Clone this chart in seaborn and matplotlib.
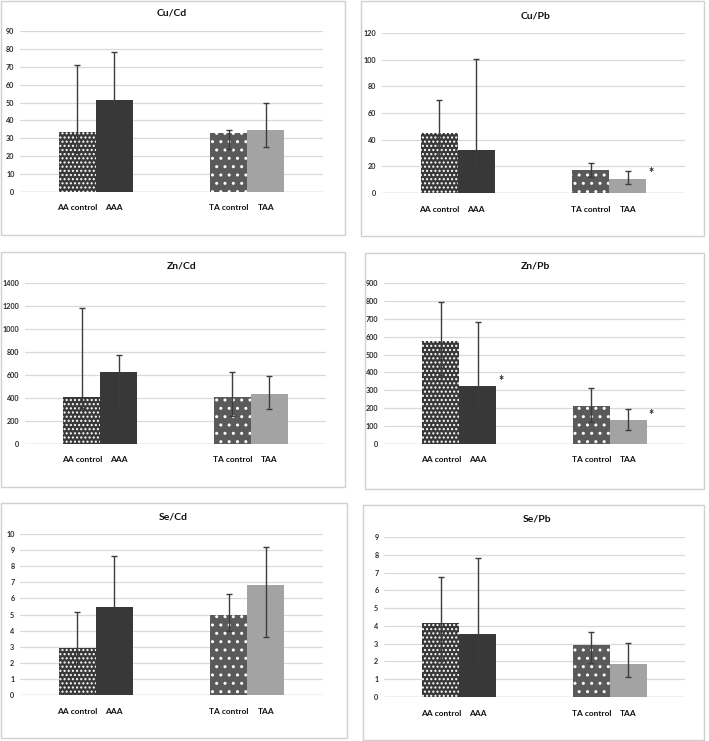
import numpy as np
import pandas as pd
import matplotlib
matplotlib.use("Agg")
import matplotlib.pyplot as plt
from matplotlib.patches import Rectangle
import seaborn as sns

# bar labels, in drawing order
groups = ["AA", "TA"]
conditions = ["control", "case"]
bar_labels = ["AA control", "AAA", "TA control", "TAA"]

titles = ["Cu/Cd", "Cu/Pb", "Zn/Cd", "Zn/Pb", "Se/Cd", "Se/Pb"]

# means and upper / lower ends of the error bars
cu_cd_mean = [33.3, 51.2, 33.0, 34.5]
cu_cd_hi = [70.8, 78.3, 34.8, 49.9]
cu_cd_lo = [22.0, 37.3, 24.2, 25.2]

cu_pb_mean = [45.2, 32.0, 17.5, 10.8]
cu_pb_hi = [70.0, 100.7, 22.8, 16.5]
cu_pb_lo = [25.0, 17.5, 12.0, 6.5]

zn_cd_mean = [406, 623, 406, 435]
zn_cd_hi = [1183, 774, 626, 588]
zn_cd_lo = [316, 330, 240, 304]

zn_pb_mean = [574, 322, 212, 132]
zn_pb_hi = [792, 682, 313, 194]
zn_pb_lo = [388, 196, 123, 78]

se_cd_mean = [2.90, 5.47, 4.99, 6.81]
se_cd_hi = [5.18, 8.63, 6.25, 9.17]
se_cd_lo = [1.90, 3.66, 3.98, 3.62]

se_pb_mean = [4.14, 3.55, 2.93, 1.87]
se_pb_hi = [6.76, 7.84, 3.64, 3.04]
se_pb_lo = [2.00, 1.77, 1.94, 1.10]

y_max = [90, 120, 1400, 900, 10, 9]
y_step = [10, 20, 200, 100, 1, 1]

# significance stars: panel index -> bar indices
stars = {1: [3], 3: [1, 3]}

means = [cu_cd_mean, cu_pb_mean, zn_cd_mean, zn_pb_mean, se_cd_mean, se_pb_mean]
his = [cu_cd_hi, cu_pb_hi, zn_cd_hi, zn_pb_hi, se_cd_hi, se_pb_hi]
los = [cu_cd_lo, cu_pb_lo, zn_cd_lo, zn_pb_lo, se_cd_lo, se_pb_lo]

sns.set_theme(style="white")
plt.rcParams["font.family"] = ["Lato", "DejaVu Sans"]
plt.rcParams["hatch.linewidth"] = 1.0

W, H = 709, 741
fig = plt.figure(figsize=(W / 100, H / 100), dpi=100)

# layout in pixels: panel box (x0, y0, x1, y1), plot area (left, right, top, bottom)
boxes = [(1, 1, 345, 235), (361, 1, 704, 236),
         (1, 252, 345, 487), (365, 253, 704, 489),
         (1, 503, 347, 738), (363, 505, 704, 740)]
areas = [(20, 323, 31, 192), (382, 685, 33, 193),
         (25, 326, 283, 444), (384, 685, 283, 444),
         (20, 323, 534, 695), (384, 685, 537, 697)]
title_pos = [(172, 13), (536, 16), (182, 266), (535, 266), (173, 517), (537, 519)]

fills = ["#383838", "#383838", "#5a5a5a", "#a3a3a3"]
hatches = ["....", None, "..", None]

for i in range(6):
    bx0, by0, bx1, by1 = boxes[i]
    fig.patches.append(Rectangle((bx0 / W, 1 - by1 / H), (bx1 - bx0) / W, (by1 - by0) / H,
                                 transform=fig.transFigure, fill=False,
                                 edgecolor="#d0d0d0", linewidth=1.0))
    l, r, t, b = areas[i]
    ax = fig.add_axes([l / W, 1 - b / H, (r - l) / W, (b - t) / H])

    df = pd.DataFrame({
        "group": [g for g in groups for _ in conditions],
        "condition": conditions * len(groups),
        "value": means[i],
    })
    sns.barplot(data=df, x="group", y="value", hue="condition", order=groups,
                hue_order=conditions, width=0.49, errorbar=None, legend=False,
                saturation=1, ax=ax)

    bars = sorted(ax.patches, key=lambda p: p.get_x())
    for p, fc, h in zip(bars, fills, hatches):
        p.set_facecolor(fc)
        p.set_linewidth(0)
        if h:
            p.set_hatch(h)
            p.set_edgecolor("white")
    centers = np.array([p.get_x() + p.get_width() / 2 for p in bars])
    heights = np.array([p.get_height() for p in bars])
    lo = np.array(los[i])
    hi = np.array(his[i])
    ax.errorbar(centers, heights, yerr=[heights - lo, hi - heights], fmt="none",
                ecolor="#3c3c3c", elinewidth=1.0, capsize=2, capthick=1.0, zorder=5)

    for k in stars.get(i, []):
        p = bars[k]
        ax.text(p.get_x() + p.get_width() + 0.03, heights[k] + y_max[i] * 0.035, "*",
                fontsize=9, fontweight="bold", color="#222222", ha="center", va="center")

    ax.set_xlim(-0.5, 1.5)
    ax.set_ylim(0, y_max[i])
    ax.set_yticks(np.arange(0, y_max[i] + y_step[i] / 2, y_step[i]))
    ax.set_xticks(centers)
    ax.set_xticklabels(bar_labels, fontsize=6, fontweight="bold", color="#111111")
    ax.tick_params(axis="x", length=0, pad=9)
    ax.tick_params(axis="y", length=0, pad=4, labelsize=5.2, labelcolor="#2a2a2a")
    for lbl in ax.get_yticklabels():
        lbl.set_fontweight("bold")
    ax.grid(axis="y", color="#d9d9d9", linewidth=0.9)
    ax.set_axisbelow(True)
    for s in ax.spines.values():
        s.set_visible(False)
    ax.axhline(0, color="#d0d0d0", linewidth=1.0, zorder=0)
    ax.set_xlabel("")
    ax.set_ylabel("")

    tx, ty = title_pos[i]
    fig.text(tx / W, 1 - ty / H, titles[i], fontsize=7.5, fontweight="bold",
             color="#111111", ha="center", va="center")

fig.savefig("out.png", dpi=100, facecolor="white")
